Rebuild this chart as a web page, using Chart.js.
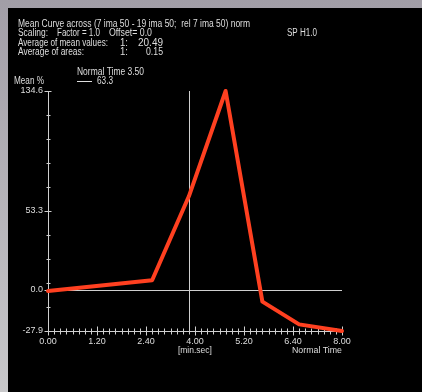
<!DOCTYPE html>
<html><head><meta charset="utf-8">
<script src="https://cdn.jsdelivr.net/npm/chart.js@4"></script>
<style>html,body{margin:0;padding:0;background:#000;overflow:hidden}canvas{display:block}</style>
</head><body><canvas id="c" width="422" height="392"></canvas>
<script>
// ---- data ----
const timeSec = [0, 170, 230, 290, 350, 410, 480];          // [min.sec] axis in seconds
const meanPct = [-0.8, 6.5, 63.3, 134.6, -8.0, -23.4, -27.9];
const xMajorStep = 80;                                       // labels 0.00,1.20,2.40,...
const xMinorStep = 10;
const yMin = -27.9, yMax = 134.6;
const yLabelValues = [-27.9, 0, 53.3, 134.6];
const yLabelTexts = ['-27.9', '0.0', '53.3', '134.6'];
const normalTimeSec = 230, normalTimeLabel = 'Normal Time 3.50', normalTimeValueText = '63.3';
const titleText = 'Mean Curve across (7 ima 50 - 19 ima 50;  rel 7 ima 50) norm';
const scalingTexts = ['Scaling:', 'Factor = 1.0', 'Offset= 0.0'];
const avgMeanTexts = ['Average of mean values:', '1:', '20.49'];
const avgAreaTexts = ['Average of areas:', '1:', '0.15'];
const spText = 'SP H1.0';
const yAxisTitle = 'Mean %';
const xUnitText = '[min.sec]', xTitleText = 'Normal Time';

// ---- drawing ----
const FONT = '"Liberation Sans", Arial, sans-serif';
const TXT = '#dedede';
const AX = '#cfcfcf';

function fmtMinSec(v) { return Math.floor(v / 60) + '.' + String(v % 60).padStart(2, '0'); }
function txt(ctx, s, x, y, size, maxW, align) {
  ctx.font = size + 'px ' + FONT;
  ctx.textAlign = align || 'left';
  ctx.textBaseline = 'middle';
  ctx.fillStyle = TXT;
  const w = ctx.measureText(s).width;
  if (maxW && w > maxW) ctx.fillText(s, x, y, maxW); else ctx.fillText(s, x, y);
}
function seg(ctx, x1, y1, x2, y2) { ctx.beginPath(); ctx.moveTo(x1, y1); ctx.lineTo(x2, y2); ctx.stroke(); }
function isLabeled(v) { return yLabelValues.some(l => Math.abs(l - v) < 0.1); }

const frame = {
  id: 'frame',
  beforeDraw(chart) {
    const ctx = chart.ctx; ctx.save();
    const g = ctx.createLinearGradient(0, 0, 0, 392);
    g.addColorStop(0, '#a29ea7'); g.addColorStop(1, '#c8c8ca');
    ctx.fillStyle = g; ctx.fillRect(0, 0, 422, 392);
    ctx.fillStyle = '#000'; ctx.fillRect(8, 8, 414, 384);
    ctx.restore();
  }
};

const guides = {
  id: 'guides',
  beforeDatasetsDraw(chart) {
    const { ctx, chartArea: a, scales: { x, y } } = chart;
    ctx.save(); ctx.strokeStyle = AX; ctx.lineWidth = 1;
    const y0 = Math.round(y.getPixelForValue(0)) + 0.5;
    seg(ctx, a.left, y0, a.right, y0);
    const xn = Math.round(x.getPixelForValue(normalTimeSec)) + 0.5;
    seg(ctx, xn, a.top, xn, a.bottom);
    const yb = Math.round(a.bottom) + 0.5;
    x.ticks.forEach(t => {
      const px = Math.round(x.getPixelForValue(t.value)) + 0.5;
      const major = t.value % xMajorStep === 0;
      seg(ctx, px, yb - (major ? 5 : 3), px, yb + (major ? 4 : 3));
    });
    const xl = Math.round(a.left) + 0.5;
    y.ticks.forEach(t => {
      const py = Math.round(y.getPixelForValue(t.value)) + 0.5;
      const major = isLabeled(t.value);
      seg(ctx, xl - (major ? 4 : 2), py, xl + (major ? 3 : 2), py);
    });
    ctx.restore();
  },
  afterDraw(chart) {
    const { ctx, chartArea: a, scales: { x } } = chart;
    ctx.save();
    txt(ctx, titleText, 18, 24, 10, 232);
    txt(ctx, scalingTexts[0], 18, 33.5, 10, 30);
    txt(ctx, scalingTexts[1], 57, 33.5, 10, 43);
    txt(ctx, scalingTexts[2], 109, 33.5, 10, 43);
    txt(ctx, spText, 287, 33.5, 10, 30);
    txt(ctx, avgMeanTexts[0], 18, 43, 10, 90);
    txt(ctx, avgMeanTexts[1], 120, 43, 10, 8);
    txt(ctx, avgMeanTexts[2], 163, 43, 10, 28, 'right');
    txt(ctx, avgAreaTexts[0], 18, 52.5, 10, 66);
    txt(ctx, avgAreaTexts[1], 120, 52.5, 10, 8);
    txt(ctx, avgAreaTexts[2], 163, 52.5, 10, 17, 'right');
    txt(ctx, yAxisTitle, 14, 81, 10, 30);
    txt(ctx, normalTimeLabel, 77, 72, 10, 67);
    ctx.strokeStyle = TXT; ctx.lineWidth = 1;
    seg(ctx, 77, 81.5, 92, 81.5);
    txt(ctx, normalTimeValueText, 97, 81.5, 10, 16);
    txt(ctx, xUnitText, x.getPixelForValue(normalTimeSec) + 6, 350, 9.5, 34, 'center');
    txt(ctx, xTitleText, a.right, 350, 9.5, 50, 'right');
    ctx.restore();
  }
};

new Chart(document.getElementById('c'), {
  type: 'line',
  data: {
    datasets: [{
      data: timeSec.map((t, i) => ({ x: t, y: meanPct[i] })),
      borderColor: '#ff4020',
      borderWidth: 4,
      borderJoinStyle: 'round',
      borderCapStyle: 'round',
      pointRadius: 0,
      tension: 0,
      clip: false
    }]
  },
  options: {
    responsive: false,
    animation: false,
    devicePixelRatio: 1,
    layout: { padding: { left: 0, top: 91, right: 80, bottom: 0 } },
    plugins: { legend: { display: false }, tooltip: { enabled: false } },
    scales: {
      x: {
        type: 'linear', min: 0, max: 480,
        afterFit(s) { s.height = 61; },
        grid: { display: true, drawOnChartArea: false, drawTicks: false },
        border: { display: true, color: AX, width: 1 },
        ticks: {
          stepSize: xMinorStep, autoSkip: false, maxRotation: 0, padding: 5,
          color: TXT, font: { family: FONT, size: 9 },
          callback: v => (v % xMajorStep === 0 ? fmtMinSec(v) : '')
        }
      },
      y: {
        type: 'linear', min: yMin, max: yMax,
        afterFit(s) { s.width = 48; },
        afterBuildTicks(s) {
          const step = (yMax - yMin) / 10;
          const t = [];
          for (let k = 0; k <= 10; k++) t.push({ value: yMin + k * step });
          t.push({ value: 0 });
          t.sort((a, b) => a.value - b.value);
          s.ticks = t;
        },
        grid: { display: true, drawOnChartArea: false, drawTicks: false },
        border: { display: true, color: AX, width: 1 },
        ticks: {
          autoSkip: false, padding: 5, color: TXT, font: { family: FONT, size: 9 },
          callback: v => { const i = yLabelValues.findIndex(l => Math.abs(l - v) < 0.1); return i >= 0 ? yLabelTexts[i] : ''; }
        }
      }
    }
  },
  plugins: [frame, guides]
});
</script>
</body></html>
